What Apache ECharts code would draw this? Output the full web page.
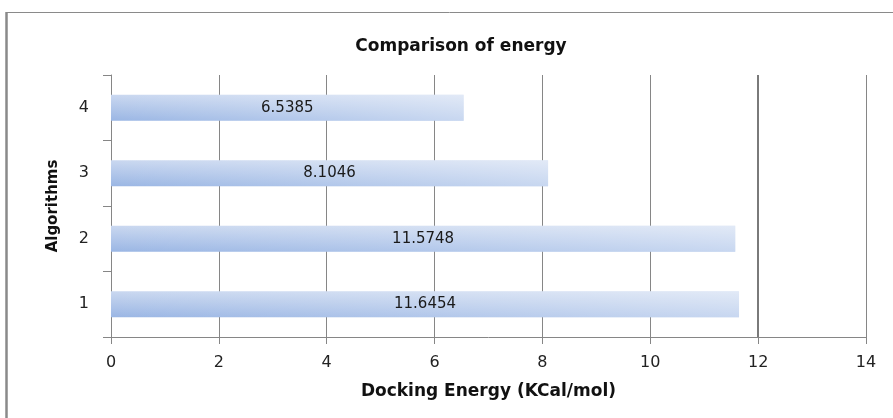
<!DOCTYPE html>
<html>
<head>
<meta charset="utf-8">
<script src="https://cdn.jsdelivr.net/npm/echarts@6/dist/echarts.min.js"></script>
<style>html,body{margin:0;padding:0;background:#fff}#c{width:893px;height:418px}</style>
</head>
<body>
<div id="c"></div>
<script>
var categories = ['1', '2', '3', '4'];
var energies = [11.6454, 11.5748, 8.1046, 6.5385];
var xTicks = [0, 2, 4, 6, 8, 10, 12, 14];

var chart = echarts.init(document.getElementById('c'));
var baseColor = new echarts.graphic.LinearGradient(0, 0, 0, 1, [
  { offset: 0, color: '#cad8f0' },
  { offset: 1, color: '#9ab6e4' }
]);
var sheen = new echarts.graphic.LinearGradient(0, 0, 1, 0, [
  { offset: 0, color: 'rgba(255,255,255,0)' },
  { offset: 1, color: 'rgba(255,255,255,0.45)' }
]);
chart.setOption({
  animation: false,
  backgroundColor: '#fff',
  title: {
    text: 'Comparison of energy',
    left: 456, top: 33, textAlign: 'center',
    textStyle: { fontFamily: 'DejaVu Sans', fontWeight: 'bold', fontSize: 17, color: '#111' }
  },
  graphic: [
    { type: 'line', shape: { x1: 6.5, y1: 12, x2: 6.5, y2: 418 }, style: { stroke: '#8a8a8a', lineWidth: 2.5 } },
    { type: 'line', shape: { x1: 6, y1: 12.5, x2: 893, y2: 12.5 }, style: { stroke: '#8a8a8a', lineWidth: 1 } }
  ],
  grid: { left: 111, right: 27, top: 75, bottom: 81, containLabel: false },
  xAxis: {
    type: 'value', min: 0, max: 14, interval: 2,
    name: 'Docking Energy (KCal/mol)', nameLocation: 'middle', nameGap: 46,
    nameTextStyle: { fontFamily: 'DejaVu Sans', fontWeight: 'bold', fontSize: 17, color: '#111' },
    axisLine: { show: true, lineStyle: { color: '#868686', width: 1 } },
    axisTick: { show: true, length: 7, lineStyle: { color: '#868686' } },
    axisLabel: {
      margin: 18, fontFamily: 'DejaVu Sans', fontSize: 16, color: '#222',
      formatter: function (v) { return xTicks.indexOf(v) >= 0 ? String(v) : ''; }
    },
    splitLine: { show: true, lineStyle: { color: '#868686', width: 1 } }
  },
  yAxis: {
    type: 'category', data: categories,
    name: 'Algorithms', nameLocation: 'middle', nameRotate: 90, nameGap: 50,
    nameTextStyle: { fontFamily: 'DejaVu Sans', fontWeight: 'bold', fontSize: 15, color: '#111' },
    axisLine: { show: true, lineStyle: { color: '#868686', width: 1 } },
    axisTick: { show: true, length: 8, lineStyle: { color: '#868686' } },
    axisLabel: { margin: 22, fontFamily: 'DejaVu Sans', fontSize: 16, color: '#222' },
    splitLine: { show: false }
  },
  series: [{
    type: 'bar',
    data: energies,
    barWidth: '40%',
    itemStyle: { color: baseColor },
    markLine: {
      silent: true, symbol: ['none', 'none'],
      label: { show: false },
      lineStyle: { color: '#7a7a7a', width: 2, type: 'solid' },
      data: [{ xAxis: 12 }]
    }
  }, {
    type: 'bar',
    data: energies,
    barWidth: '40%',
    barGap: '-100%',
    itemStyle: { color: sheen },
    label: {
      show: true, position: 'inside',
      fontFamily: 'DejaVu Sans', fontSize: 15, color: '#1a1a1a',
      formatter: function (p) { return String(p.value); }
    }
  }]
});
</script>
</body>
</html>
